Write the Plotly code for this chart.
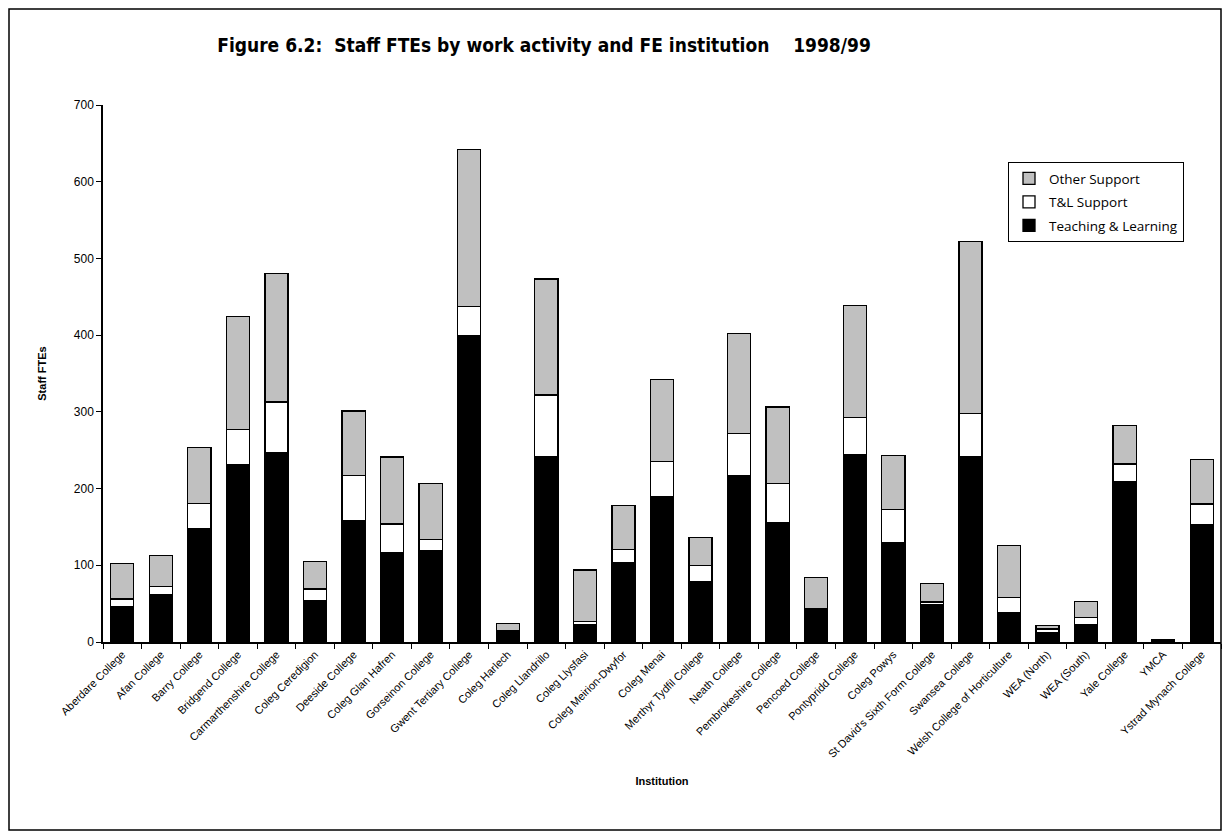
import plotly.graph_objects as go

institutions = [
    "Aberdare College", "Afan College", "Barry College", "Bridgend College",
    "Carmarthenshire College", "Coleg Ceredigion", "Deeside College",
    "Coleg Glan Hafren", "Gorseinon College", "Gwent Tertiary College",
    "Coleg Harlech", "Coleg Llandrillo", "Coleg Llysfasi", "Coleg Meirion-Dwyfor",
    "Coleg Menai", "Merthyr Tydfil College", "Neath College",
    "Pembrokeshire College", "Pencoed College", "Pontypridd College",
    "Coleg Powys", "St David's Sixth Form College", "Swansea College",
    "Welsh College of Horticulture", "WEA (North)", "WEA (South)",
    "Yale College", "YMCA", "Ystrad Mynach College",
]

teaching = [46.5, 62, 148, 231, 247, 54, 158, 117, 119, 399,
            14, 242, 22, 103, 189.5, 79, 217.5, 155.5, 43, 244,
            129.5, 49, 242, 38, 12, 22, 209.5, 3.5, 153]
tl_support = [9.5, 10, 33, 46, 66, 15, 59, 37, 15, 38,
              0.5, 80, 4.5, 18, 45.5, 21, 54, 51, 0, 49,
              43, 3, 56, 20, 5, 9.5, 22.5, 0, 27]
other_support = [46.5, 41, 73, 147, 167, 36, 84, 87, 73, 205,
                 9.5, 151, 67.5, 57, 107, 36.5, 131, 100, 41, 146,
                 71, 24, 224, 68, 4.5, 21, 50, 0, 57.5]

# page body has an 8px margin, so the figure is drawn 8px smaller and
# positions below are in page pixels minus 8
OFF = 8
W, H = 1230 - 2 * OFF, 839 - 2 * OFF
L, T = 103 - OFF, 105 - OFF
R = W - (1221 - OFF)
B = H - (642 - OFF)
pw, ph = W - L - R, H - T - B


def px_x(px):
    return (px - OFF - L) / pw


def px_y(py):
    return (H - B - (py - OFF)) / ph


fig = go.Figure()
line = dict(color="black", width=1.3)
fig.add_trace(go.Bar(x=institutions, y=teaching, name="Teaching & Learning",
                     legendgroup="tl", legendrank=3,
                     marker=dict(color="black", line=line)))
fig.add_trace(go.Bar(x=institutions, y=tl_support, name="T&L Support",
                     legendgroup="tls", legendrank=2,
                     marker=dict(color="white", line=line)))
fig.add_trace(go.Bar(x=institutions, y=other_support, name="Other Support",
                     legendgroup="os", legendrank=1,
                     marker=dict(color="#c0c0c0", line=line)))

fig.update_layout(
    width=W, height=H,
    barmode="stack", bargap=0.4,
    paper_bgcolor="white", plot_bgcolor="white",
    margin=dict(l=L, r=R, t=T, b=B),
    font=dict(family="Liberation Sans, Arial", size=11, color="black"),
    title=dict(text="<b>Figure 6.2:  Staff FTEs by work activity and FE institution    1998/99</b>",
               x=(544 - OFF) / W, xanchor="center", y=1 - (45 - OFF) / H, yanchor="middle",
               font=dict(family="DejaVu Sans Condensed, DejaVu Sans", size=19)),
    showlegend=True,
    legend=dict(x=px_x(1008), y=px_y(162), xanchor="left", yanchor="top",
                traceorder="grouped", bordercolor="black", borderwidth=1,
                bgcolor="white", font=dict(family="Open Sans", size=13.5),
                itemwidth=30, tracegroupgap=3),
    xaxis=dict(
        title=dict(text="<b>Institution</b>", font=dict(size=11), standoff=18),
        tickangle=-45, ticks="outside", tickson="boundaries", ticklen=5,
        tickcolor="black", showline=True, linecolor="black", linewidth=1.5,
        showgrid=False, tickfont=dict(size=11),
    ),
    yaxis=dict(
        title=dict(text="<b>Staff FTEs</b>", font=dict(size=11), standoff=25),
        range=[0, 700], dtick=100, ticks="outside", ticklen=5, tickcolor="black",
        showline=True, linecolor="black", linewidth=1.5, showgrid=False,
        zeroline=False, tickfont=dict(size=12),
    ),
    shapes=[dict(type="rect", xref="paper", yref="paper",
                 x0=px_x(9), x1=px_x(1221), y0=px_y(830), y1=px_y(9),
                 line=dict(color="black", width=1.5), layer="below")],
)

fig.write_html("out.html")
